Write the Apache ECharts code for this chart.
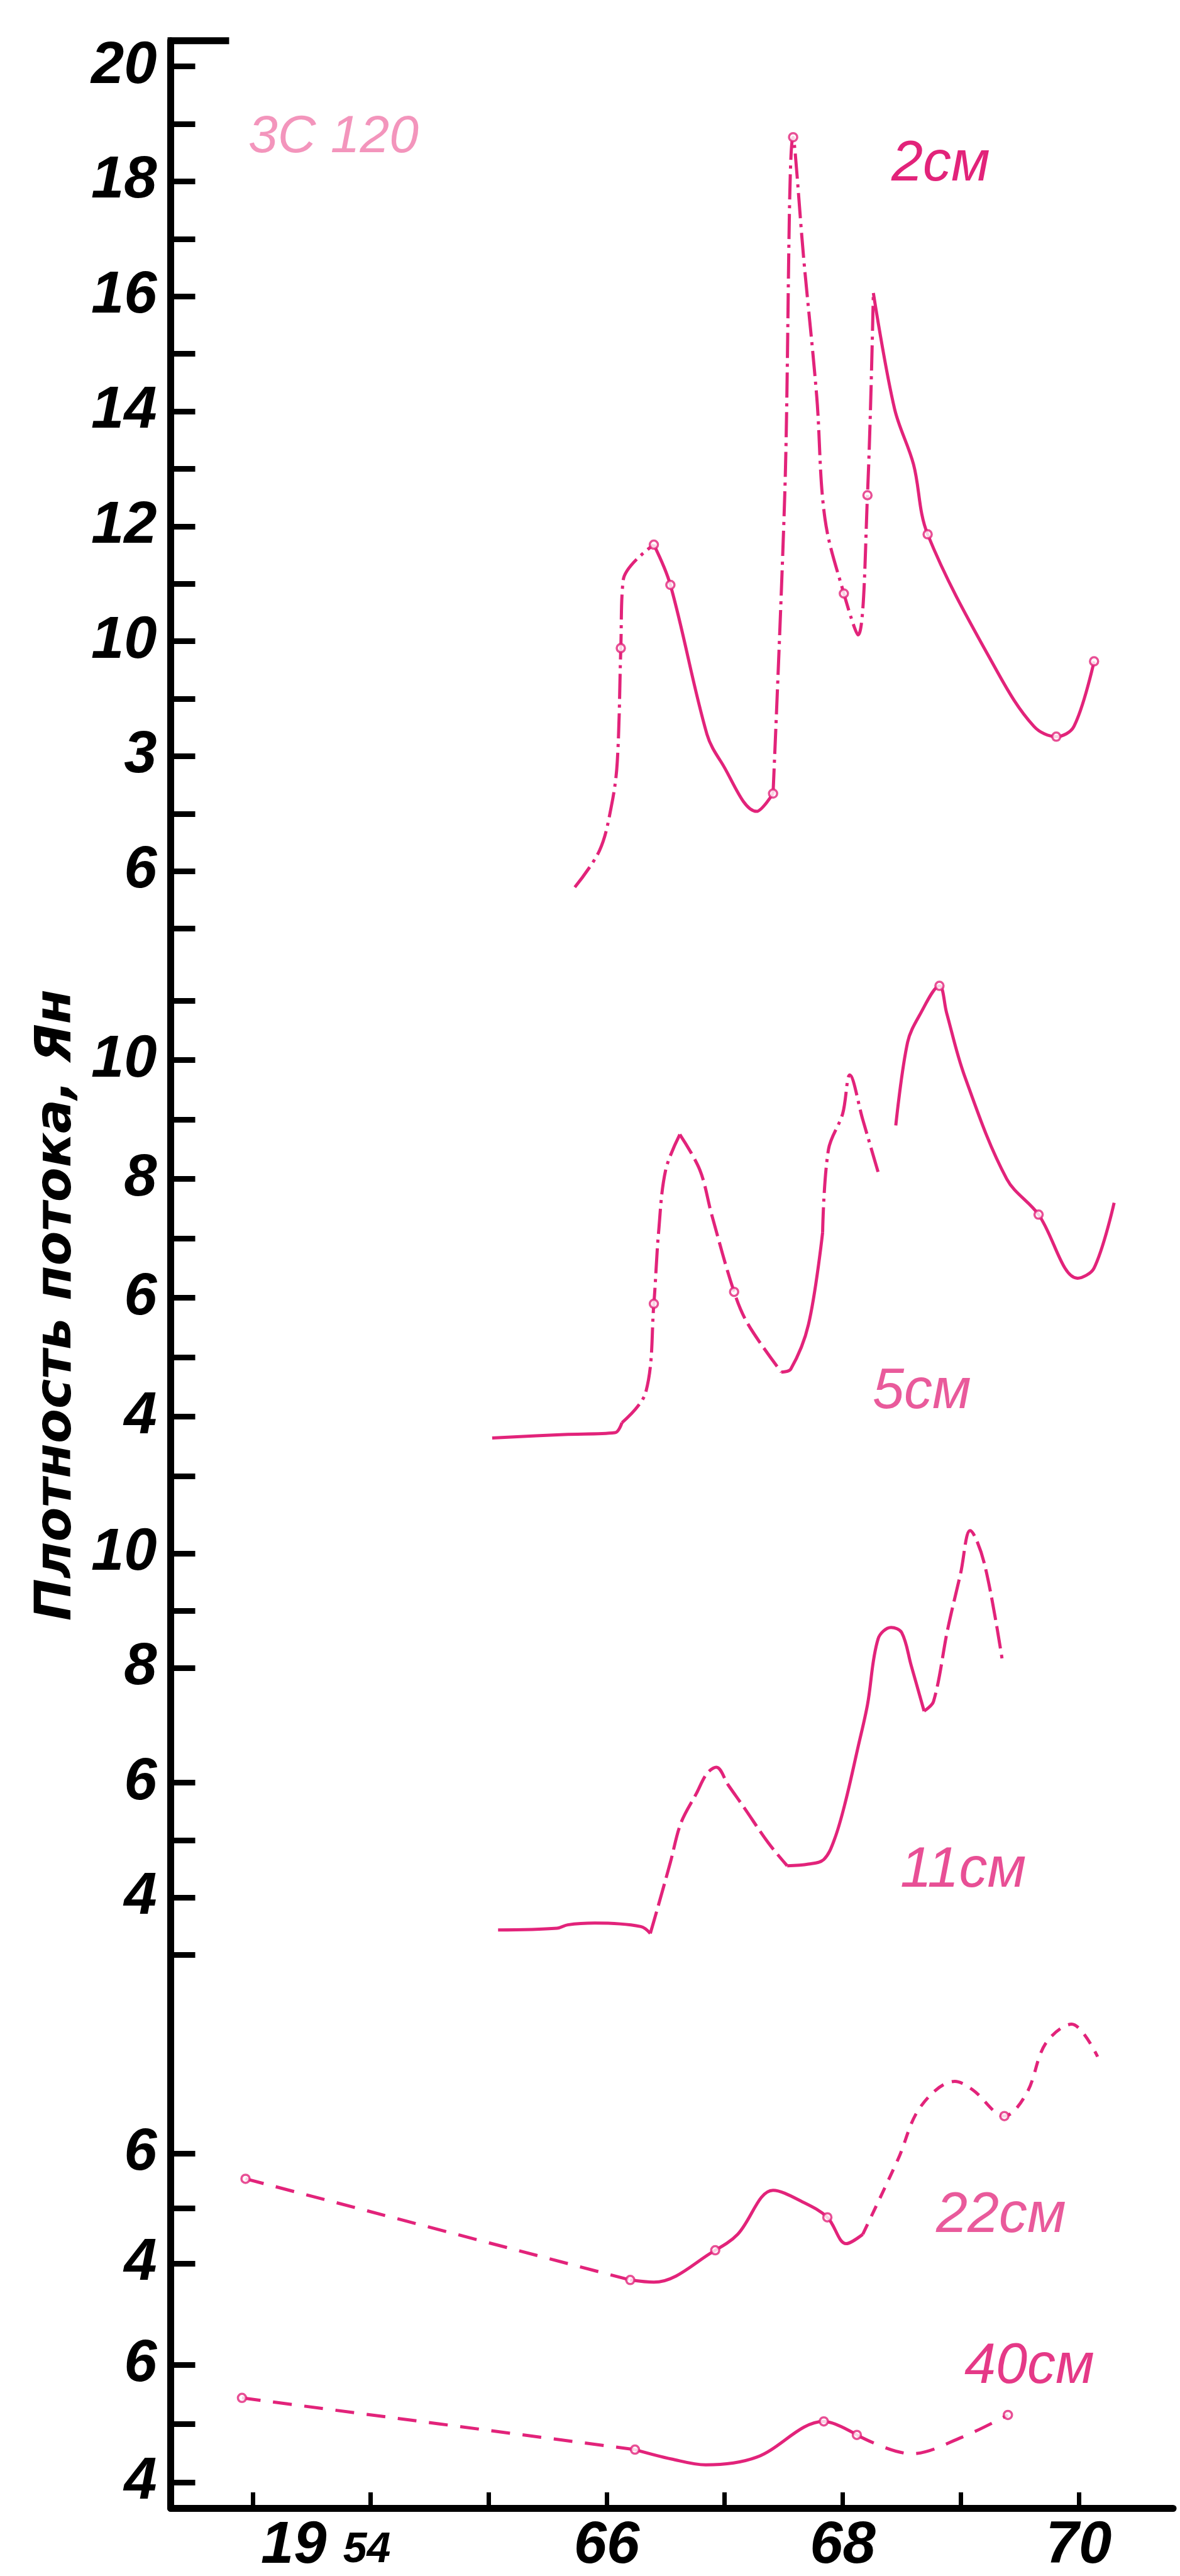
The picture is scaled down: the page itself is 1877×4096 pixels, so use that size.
<!DOCTYPE html>
<html><head><meta charset="utf-8">
<script src="https://cdn.jsdelivr.net/npm/echarts@6/dist/echarts.min.js"></script>
<style>html,body{margin:0;padding:0;background:#fff}#c{width:1877px;height:4096px}</style>
</head><body><div id="c"></div>
<script>
// ---------------- DATA ----------------
// [year, flux (Jy), 1 = open circle marker]
const s2cm = [
  [1965.73,5.72,0],[1965.94,6.36,0],[1966.04,7.13,0],[1966.09,7.90,0],[1966.12,9.88,1],
  [1966.14,11.06,0],[1966.40,11.68,1],[1966.54,10.98,1],[1966.85,8.38,0],[1966.97,7.90,0],
  [1967.27,7.04,0],[1967.41,7.35,1],[1967.51,12.60,0],[1967.58,18.77,1],[1967.67,16.65,0],
  [1967.78,14.26,0],[1967.85,12.13,0],[1968.01,10.83,1],[1968.13,10.11,0],[1968.21,12.54,1],
  [1968.26,16.06,0],[1968.44,14.04,0],[1968.60,13.08,0],[1968.72,11.86,1],[1969.31,9.47,0],
  [1969.62,8.52,0],[1969.81,8.34,1],[1969.96,8.52,0],[1970.13,9.65,1]
];
const s5cm = [
  [1965.03,3.64,0],[1965.64,3.70,0],[1966.07,3.73,0],[1966.13,3.90,0],[1966.33,4.40,0],
  [1966.40,5.90,1],[1966.44,7.10,0],[1966.50,8.15,0],[1966.62,8.75,0],[1966.79,8.15,0],
  [1966.89,7.40,0],[1967.08,6.10,1],[1967.20,5.55,0],[1967.48,4.75,0],[1967.56,4.80,0],
  [1967.71,5.55,0],[1967.83,7.10,0],[1967.88,8.50,0],[1968.00,9.10,0],[1968.06,9.75,0],
  [1968.17,9.00,0],[1968.31,8.05,0],[1968.45,8.90,0],[1968.55,10.30,0],[1968.65,10.75,0],
  [1968.82,11.25,1],[1968.88,10.80,0],[1969.03,9.75,0],[1969.39,8.00,0],[1969.66,7.40,1],
  [1969.99,6.33,0],[1970.13,6.50,0],[1970.30,7.60,0]
];
const s11cm = [
  [1965.08,3.43,0],[1965.58,3.46,0],[1965.67,3.52,0],[1965.90,3.55,0],[1966.29,3.49,0],
  [1966.37,3.37,0],[1966.43,3.80,0],[1966.54,4.61,0],[1966.63,5.30,0],[1966.76,5.81,0],
  [1966.85,6.16,0],[1966.93,6.27,0],[1967.03,5.96,0],[1967.16,5.58,0],[1967.37,4.95,0],
  [1967.53,4.55,0],[1967.71,4.58,0],[1967.84,4.66,0],[1967.93,5.01,0],[1968.02,5.64,0],
  [1968.13,6.62,0],[1968.21,7.36,0],[1968.30,8.51,0],[1968.41,8.71,0],[1968.50,8.62,0],
  [1968.58,8.05,0],[1968.69,7.25,0],[1968.77,7.42,0],[1968.89,8.68,0],[1969.00,9.66,0],
  [1969.08,10.40,0],[1969.20,9.83,0],[1969.35,8.17,0]
];
const s22cm = [
  [1962.94,5.54,1],[1966.20,3.70,1],[1966.40,3.66,0],[1966.92,4.24,1],[1967.11,4.53,0],
  [1967.41,5.33,0],[1967.66,5.12,0],[1967.87,4.84,1],[1968.03,4.36,0],[1968.17,4.53,0],
  [1968.47,5.90,0],[1968.66,6.85,0],[1968.95,7.31,0],[1969.10,7.16,0],[1969.37,6.68,1],
  [1969.56,7.10,0],[1969.72,8.00,0],[1969.94,8.35,0],[1970.16,7.76,0]
];
const s40cm = [
  [1962.91,5.44,1],[1966.24,4.56,1],[1966.55,4.40,0],[1966.84,4.30,0],[1967.27,4.43,0],
  [1967.84,5.04,1],[1968.12,4.81,1],[1968.58,4.49,0],[1969.01,4.77,0],[1969.40,5.15,1]
];

// tick positions and labels
const xTicks = [1963,1964,1965,1966,1967,1968,1969,1970];
const xLabelVals = [1963.62,1966,1968,1970];
const xLabelText = ['{a|19} {b|54}','66','68','70'];

const y2Ticks = [5,6,7,8,9,10,11,12,13,14,15,16,17,18,19,20];
const y2LabelVals = [6,8,10,12,14,16,18,20];
const y2LabelText = ['6','3','10','12','14','16','18','20'];
const y5Ticks = [3,4,5,6,7,8,9,10,11];
const y5LabelVals = [4,6,8,10];
const y5LabelText = ['4','6','8','10'];
const y11Ticks = [3,4,5,6,8,9,10];
const y11LabelVals = [4,6,8,10];
const y11LabelText = ['4','6','8','10'];
const y22Ticks = [4,5,6];
const y22LabelVals = [4,6];
const y22LabelText = ['4','6'];
const y40Ticks = [4,5,6];
const y40LabelVals = [4,6];
const y40LabelText = ['4','6'];

const curveNames = ['2см','5см','11см','22см','40см'];
const yName = 'Плотность потока, Ян';
const sourceName = '3C 120';

// ---------------- LAYOUT / STYLE ----------------
const S = 1877/2060;
const PINK = '#e2237a';
const AXL = 298*S, AXR = 2048*S;
const xMin = 1962.306, xMax = 1970.80;
const panels = [
  {top:71,  bot:1690, min:4.307, max:20.449, ticks:y2Ticks,  lv:y2LabelVals,  lt:y2LabelText},
  {top:1690,bot:2640, min:2.382, max:11.543, ticks:y5Ticks,  lv:y5LabelVals,  lt:y5LabelText},
  {top:2640,bot:3480, min:2.31,  max:10.71,  ticks:y11Ticks, lv:y11LabelVals, lt:y11LabelText},
  {top:3480,bot:4040, min:3.0625,max:8.896,  ticks:y22Ticks, lv:y22LabelVals, lt:y22LabelText},
  {top:4040,bot:4380, min:3.565, max:6.850,  ticks:y40Ticks, lv:y40LabelVals, lt:y40LabelText}
];
const FONT = '"Liberation Sans Narrow","Liberation Sans",sans-serif';
const labelFont = {fontSize:94, fontStyle:'italic', fontWeight:'bold', fontFamily:FONT, color:'#000'};

function lookup(vals, texts){
  return v => { const i = vals.findIndex(t => Math.abs(t - v) < 1e-6); return i >= 0 ? texts[i] : ''; };
}

const grids = panels.map(p => ({left:AXL, right:1877-AXR, top:p.top*S, height:(p.bot-p.top)*S}));
const xAxes = panels.map((p,i) => {
  const last = i === panels.length-1;
  return {
    type:'value', gridIndex:i, min:xMin, max:xMax, show:last,
    axisLine:{show:last, onZero:false, lineStyle:{color:'#000', width:11}},
    axisTick:{show:last, inside:true, length:25, customValues:xTicks, lineStyle:{color:'#000', width:7}},
    axisLabel:{show:last, customValues:xLabelVals, formatter:lookup(xLabelVals,xLabelText), margin:14,
      ...labelFont,
      rich:{a:{...labelFont, verticalAlign:'bottom'},
            b:{...labelFont, fontSize:68, verticalAlign:'bottom', padding:[0,0,7,0]}}},
    splitLine:{show:false}
  };
});
const yAxes = panels.map((p,i) => ({
  type:'value', gridIndex:i, min:p.min, max:p.max,
  axisLine:{show:true, onZero:false, lineStyle:{color:'#000', width:11}},
  axisTick:{show:true, inside:true, length:39, customValues:p.ticks, lineStyle:{color:'#000', width:9}},
  axisLabel:{show:true, customValues:p.lv, formatter:lookup(p.lv,p.lt), margin:22, ...labelFont},
  splitLine:{show:false}
}));

const DASHDOT = [40,9,5,9], DASHED = [36,10], LONGDASH = [30,20], SOLID = 'solid';
// segments: [panel index, data, from, to, dash]
const segs = [
  [0,s2cm,0,6,DASHDOT],[0,s2cm,6,11,SOLID],[0,s2cm,11,20,DASHDOT],[0,s2cm,20,28,SOLID],
  [1,s5cm,0,3,SOLID],[1,s5cm,3,8,DASHDOT],[1,s5cm,8,13,DASHED],[1,s5cm,13,16,SOLID],[1,s5cm,16,21,DASHDOT],[1,s5cm,22,32,SOLID],
  [2,s11cm,0,5,SOLID],[2,s11cm,5,15,DASHED],[2,s11cm,15,26,SOLID],[2,s11cm,26,32,DASHED],
  [3,s22cm,0,1,LONGDASH],[3,s22cm,1,9,SOLID],[3,s22cm,9,18,[18,14]],
  [4,s40cm,0,1,LONGDASH],[4,s40cm,1,6,SOLID],[4,s40cm,6,9,LONGDASH]
];
const series = segs.map(([pi,arr,a,b,dash]) => ({
  type:'line', xAxisIndex:pi, yAxisIndex:pi, smooth:0.35, showSymbol:false, symbol:'none',
  lineStyle:{color:PINK, width:5, type:dash}, clip:false, z:2,
  data:arr.slice(a,b+1).map(p => [p[0],p[1]])
}));
[s2cm,s5cm,s11cm,s22cm,s40cm].forEach((arr,pi) => {
  series.push({type:'scatter', xAxisIndex:pi, yAxisIndex:pi, symbol:'circle', symbolSize:13, z:3,
    itemStyle:{color:'#fff', borderColor:PINK, borderWidth:3.5},
    data:arr.filter(p => p[2]).map(p => [p[0],p[1]])});
});

const noteFont = 'italic 90px "Liberation Sans",sans-serif';
const notes = [
  {t:curveNames[0], x:1418, y:262, o:1},
  {t:curveNames[1], x:1388, y:2214, o:0.75},
  {t:curveNames[2], x:1432, y:2975, o:0.8},
  {t:curveNames[3], x:1489, y:3524, o:0.75},
  {t:curveNames[4], x:1534, y:3764, o:0.9}
];
const graphic = [
  {type:'line', shape:{x1:AXL-5, y1:71*S, x2:400*S, y2:71*S}, style:{stroke:'#000', lineWidth:11}},
  {type:'text', x:91, y:2075, rotation:Math.PI/2,
    style:{text:yName, font:'italic bold 80px "DejaVu Sans",sans-serif', fill:'#000', align:'center', verticalAlign:'middle'}},
  {type:'text', x:395, y:219, style:{text:sourceName, font:'italic 84px "Liberation Sans",sans-serif', fill:'#f07aab', opacity:0.8, align:'left', verticalAlign:'middle'}}
].concat(notes.map(n => ({type:'text', x:n.x, y:n.y,
  style:{text:n.t, font:noteFont, fill:PINK, opacity:n.o, align:'left', verticalAlign:'middle'}})));

const chart = echarts.init(document.getElementById('c'), null, {renderer:'canvas'});
chart.setOption({
  animation:false, backgroundColor:'#fff',
  grid:grids, xAxis:xAxes, yAxis:yAxes, series:series, graphic:graphic
});
</script>
</body></html>
